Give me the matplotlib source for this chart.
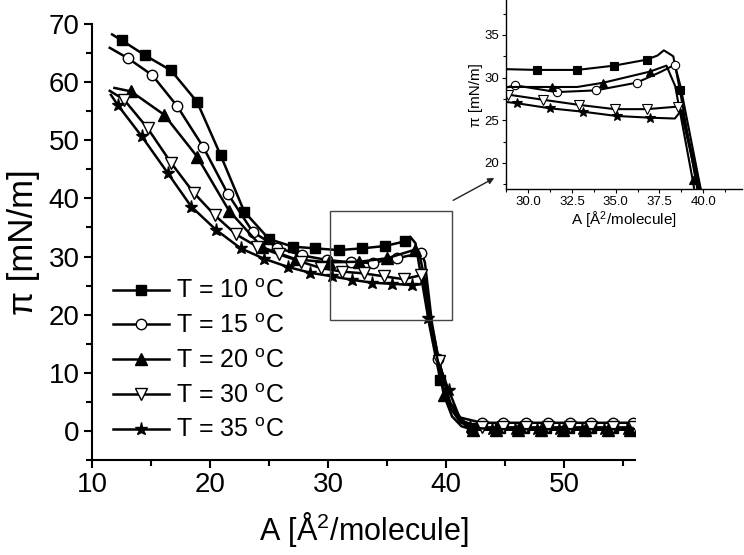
import matplotlib
matplotlib.use('Agg')
import matplotlib.pyplot as plt
from matplotlib.patches import Rectangle
from matplotlib.ticker import MultipleLocator

plt.rcParams['font.family'] = ['Liberation Sans', 'DejaVu Sans']
plt.rcParams['mathtext.fontset'] = 'custom'
plt.rcParams['mathtext.rm'] = 'Liberation Sans'
plt.rcParams['mathtext.it'] = 'Liberation Sans:italic'

##########################
######## DATA ############
##########################
labels = ['T = 10 $^{\\mathrm{o}}$C', 'T = 15 $^{\\mathrm{o}}$C', 'T = 20 $^{\\mathrm{o}}$C',
          'T = 30 $^{\\mathrm{o}}$C', 'T = 35 $^{\\mathrm{o}}$C']

# main isotherms (A in A^2/molecule, pi in mN/m)
x10 = [11.7, 12.5, 14.5, 16.7, 18.9, 20.9, 22.9, 25.0, 27.0, 28.9, 30.9, 32.85, 34.8, 36.5, 36.95,
       37.4, 37.8, 38.6, 39.5, 40.4, 41.2, 42.2, 44.6, 46.6, 48.5, 50.4, 52.3, 54.1, 55.9, 56.0]
y10 = [68.2, 67.2, 64.6, 62.0, 56.6, 47.4, 37.7, 33.0, 31.7, 31.4, 31.1, 31.4, 31.8, 32.6, 33.4,
       32.3, 27.5, 18.0, 8.8, 3.8, 1.5, 0.5, 0.5, 0.5, 0.5, 0.5, 0.5, 0.5, 0.5, 0.5]
m10 = [1, 2, 3, 4, 5, 6, 7, 8, 9, 10, 11, 12, 13, 18, 21, 22, 23, 24, 25, 26, 27, 28]

x15 = [11.5, 13.05, 15.1, 17.2, 19.4, 21.5, 23.6, 25.7, 27.8, 29.9, 31.9, 33.8, 35.8, 37.9, 38.2,
       38.8, 39.35, 40.3, 41.2, 43.0, 44.8, 46.8, 48.6, 50.5, 52.3, 54.1, 55.8, 56.0]
y15 = [65.9, 64.1, 61.2, 55.9, 48.9, 40.8, 34.3, 31.5, 30.2, 29.4, 29.0, 28.9, 29.7, 30.6, 29.0,
       18.5, 12.3, 5.0, 2.3, 1.4, 1.4, 1.4, 1.4, 1.4, 1.4, 1.4, 1.4, 1.4]
m15 = [1, 2, 3, 4, 5, 6, 7, 8, 9, 10, 11, 12, 13, 16, 19, 20, 21, 22, 23, 24, 25, 26]

x20 = [11.9, 13.3, 16.1, 18.9, 21.6, 24.4, 27.3, 30.1, 32.65, 35.0, 37.4, 37.7, 38.3, 39.0, 39.8,
       40.5, 41.3, 42.3, 44.2, 46.1, 48.0, 49.9, 51.8, 53.7, 55.6, 56.0]
y20 = [59.0, 58.4, 54.4, 47.2, 37.9, 31.6, 29.5, 29.0, 29.1, 29.7, 31.2, 30.8, 25.0, 15.0, 6.2,
       2.5, 0.8, 0.2, 0.2, 0.2, 0.2, 0.2, 0.2, 0.2, 0.2, 0.2]
m20 = [1, 2, 3, 4, 5, 6, 7, 8, 9, 10, 14, 17, 18, 19, 20, 21, 22, 23, 24]

x30 = [11.5, 12.7, 14.7, 16.7, 18.6, 20.4, 22.2, 24.0, 25.8, 27.7, 29.4, 31.2, 33.0, 34.7, 36.4,
       37.9, 38.1, 38.7, 39.4, 40.3, 41.2, 43.0, 44.8, 46.8, 48.6, 50.5, 52.3, 54.1, 55.9, 56.0]
y30 = [58.5, 57.0, 52.1, 46.1, 41.0, 37.1, 33.8, 31.7, 30.4, 29.1, 28.0, 27.4, 27.1, 26.6, 26.1,
       26.8, 26.0, 19.0, 12.0, 5.0, 1.8, 0.6, 0.6, 0.6, 0.6, 0.6, 0.6, 0.6, 0.6, 0.6]
m30 = [1, 2, 3, 4, 5, 6, 7, 8, 9, 10, 11, 12, 13, 14, 15, 18, 21, 22, 23, 24, 25, 26, 27, 28]

x35 = [11.6, 12.2, 14.2, 16.4, 18.4, 20.5, 22.6, 24.6, 26.6, 28.5, 30.3, 32.0, 33.7, 35.4, 37.1,
       37.8, 38.1, 38.5, 39.3, 40.2, 41.1, 42.0, 43.9, 45.8, 47.7, 49.6, 51.5, 53.4, 55.3, 56.0]
y35 = [57.8, 56.0, 50.7, 44.4, 38.6, 34.6, 31.4, 29.6, 28.2, 27.2, 26.6, 26.0, 25.5, 25.3, 25.1,
       25.2, 26.0, 19.4, 12.0, 7.1, 2.5, 0.6, 0.3, 0.3, 0.3, 0.3, 0.3, 0.3, 0.3, 0.3]
m35 = [1, 2, 3, 4, 5, 6, 7, 8, 9, 10, 11, 12, 13, 14, 17, 19, 21, 22, 23, 24, 25, 26, 27, 28]

# inset (plateau region)
ix10 = [28.5, 30.48, 32.8, 34.9, 36.77, 37.4, 37.75, 38.29, 38.67, 39.7, 40.0]
iy10 = [31.0, 30.9, 30.9, 31.4, 32.1, 32.6, 33.2, 32.5, 28.5, 16.5, 12.0]
im10 = [1, 2, 3, 4, 8]

ix15 = [28.5, 29.24, 31.62, 33.85, 36.19, 37.5, 38.38, 38.7, 39.9, 40.2]
iy15 = [28.7, 29.1, 28.3, 28.5, 29.4, 30.6, 31.5, 29.0, 16.5, 12.0]
im15 = [1, 2, 3, 4, 6]

ix20 = [28.5, 31.34, 32.8, 34.29, 36.95, 37.9, 38.4, 39.4, 39.8]
iy20 = [28.9, 28.9, 28.9, 29.4, 30.7, 31.4, 29.0, 18.0, 13.0]
im20 = [1, 3, 4, 7]

ix30 = [28.5, 28.86, 30.86, 32.9, 34.95, 36.77, 38.57, 38.8, 39.8, 40.1]
iy30 = [28.1, 28.0, 27.4, 26.8, 26.3, 26.3, 26.6, 25.5, 16.5, 12.0]
im30 = [1, 2, 3, 4, 5, 6]

ix35 = [28.5, 29.34, 31.24, 33.14, 35.05, 36.95, 38.38, 38.77, 39.9, 40.2]
iy35 = [27.2, 27.0, 26.4, 26.0, 25.5, 25.3, 25.2, 26.2, 16.5, 12.0]
im35 = [1, 2, 3, 4, 5]

main_sets = [(x10, y10, m10), (x15, y15, m15), (x20, y20, m20), (x30, y30, m30), (x35, y35, m35)]
inset_sets = [(ix10, iy10, im10), (ix15, iy15, im15), (ix20, iy20, im20),
              (ix30, iy30, im30), (ix35, iy35, im35)]

# marker style per temperature
markers = ['s', 'o', '^', 'v', '*']
faces = ['black', 'white', 'black', 'white', 'black']
msizes = [6.5, 7.5, 8, 8.5, 9.5]

xlab = 'A [Å$^{2}$/molecule]'
ylab = 'π [mN/m]'

##########################
######## FIGURE ##########
##########################
fig = plt.figure(figsize=(7.44, 5.55), dpi=100)
ax = fig.add_axes([0.1237, 0.1712, 0.7298, 0.7856])

for (xs, ys, mk), m, fc, ms, lab in zip(main_sets, markers, faces, msizes, labels):
    ax.plot(xs, ys, color='black', lw=1.8, marker=m, markevery=mk, ms=ms,
            mfc=fc, mec='black', mew=1.0, label=lab)

ax.set_xlim(10, 56)
ax.set_ylim(-5, 70)
ax.xaxis.set_major_locator(MultipleLocator(10))
ax.xaxis.set_minor_locator(MultipleLocator(5))
ax.yaxis.set_minor_locator(MultipleLocator(5))
ax.set_yticks([0, 10, 20, 30, 40, 50, 60, 70])
for s in ['top', 'right']:
    ax.spines[s].set_visible(False)
for s in ['left', 'bottom']:
    ax.spines[s].set_linewidth(1.5)
ax.tick_params(which='major', direction='out', length=6, width=1.5, labelsize=20, pad=3)
ax.tick_params(which='minor', direction='out', length=4, width=1.5)
ax.set_xlabel(xlab, fontsize=22, labelpad=8)
ax.set_ylabel(ylab, fontsize=25, labelpad=6)

ax.legend(loc='lower left', bbox_to_anchor=(0.011, 0.006), frameon=False, fontsize=18,
          handlelength=2.25, handletextpad=0.25, labelspacing=0.43, borderaxespad=0.2)

# zoom box
ax.add_patch(Rectangle((30.2, 19.1), 10.3, 18.65, fill=False, ec='#444444', lw=1.0, zorder=5))

# arrow to inset
fig.add_artist(matplotlib.patches.FancyArrowPatch(
    (0.6058, 0.6366), (0.6676, 0.6816), transform=fig.transFigure,
    arrowstyle='-|>', mutation_scale=9, lw=1.0, color='#222222'))

# inset
axi = fig.add_axes([0.6801, 0.6589, 0.3168, 0.3411])
for (xs, ys, mk), m, fc, ms in zip(inset_sets, markers, faces, msizes):
    axi.plot(xs, ys, color='black', lw=1.5, marker=m, markevery=mk, ms=ms * 0.8,
             mfc=fc, mec='black', mew=0.8)
axi.set_xlim(28.73, 42.2)
axi.set_ylim(16.9, 39.1)
axi.xaxis.set_major_locator(MultipleLocator(2.5))
axi.xaxis.set_minor_locator(MultipleLocator(1.25))
axi.yaxis.set_major_locator(MultipleLocator(5))
axi.yaxis.set_minor_locator(MultipleLocator(2.5))
axi.xaxis.set_major_formatter(matplotlib.ticker.FormatStrFormatter('%.1f'))
for s in ['top', 'right']:
    axi.spines[s].set_visible(False)
for s in ['left', 'bottom']:
    axi.spines[s].set_linewidth(1.0)
axi.tick_params(which='major', direction='out', length=3, width=0.8, labelsize=9.5, pad=2)
axi.tick_params(which='minor', direction='out', length=2, width=0.8)
axi.set_xlabel(xlab, fontsize=11, labelpad=1)
axi.set_ylabel(ylab, fontsize=11, labelpad=1)

fig.savefig('out.png', dpi=100)
